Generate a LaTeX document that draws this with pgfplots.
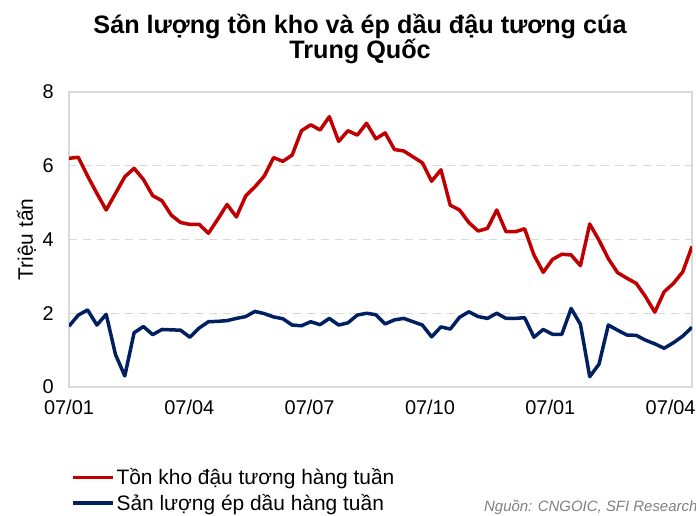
\documentclass[border=0pt]{standalone}
\usepackage{fontspec}
\setmainfont{Liberation Sans}
\usepackage{pgfplots}
\pgfplotsset{compat=1.18}
\usepackage{pgfplotstable}
\definecolor{redS}{HTML}{C00000}
\definecolor{blueS}{HTML}{002060}
\definecolor{gridG}{HTML}{D9D9D9}
\definecolor{srcG}{HTML}{808080}
\pgfplotstableread{
i red blue
0 6.20 1.65
1 6.23 1.95
2 5.72 2.09
3 5.25 1.68
4 4.80 1.97
5 5.25 0.88
6 5.70 0.30
7 5.93 1.47
8 5.63 1.64
9 5.19 1.42
10 5.05 1.56
11 4.66 1.55
12 4.46 1.54
13 4.41 1.35
14 4.41 1.60
15 4.17 1.77
16 4.55 1.78
17 4.95 1.80
18 4.61 1.86
19 5.18 1.91
20 5.43 2.05
21 5.72 1.99
22 6.22 1.90
23 6.12 1.85
24 6.29 1.68
25 6.95 1.66
26 7.11 1.77
27 6.97 1.69
28 7.33 1.86
29 6.66 1.68
30 6.95 1.74
31 6.83 1.95
32 7.15 2.00
33 6.73 1.96
34 6.89 1.71
35 6.44 1.82
36 6.40 1.86
37 6.24 1.77
38 6.08 1.68
39 5.58 1.36
40 5.89 1.63
41 4.93 1.57
42 4.80 1.89
43 4.46 2.04
44 4.23 1.91
45 4.30 1.86
46 4.80 2.00
47 4.21 1.86
48 4.21 1.86
49 4.29 1.88
50 3.58 1.35
51 3.11 1.56
52 3.46 1.43
53 3.60 1.43
54 3.58 2.13
55 3.29 1.70
56 4.42 0.28
57 3.98 0.62
58 3.48 1.68
59 3.10 1.54
60 2.95 1.41
61 2.81 1.40
62 2.45 1.27
63 2.03 1.17
64 2.58 1.05
65 2.81 1.20
66 3.12 1.38
67 3.81 1.62
}\datatable
\begin{document}
\begin{tikzpicture}[x=1bp,y=1bp]
\begin{axis}[
  at={(69bp,129bp)}, anchor=origin,
  scale only axis, width=623bp, height=295bp,
  xmin=0, xmax=67, ymin=0, ymax=8,
  xtick={0,12.94,25.88,38.82,51.76,64.7},
  xticklabels={07/01,07/04,07/07,07/10,07/01,07/04},
  ytick={0,2,4,6,8},
  major tick length=0pt,
  axis line style={gridG, line width=1.3bp},
  ymajorgrids,
  grid style={gridG, line width=1.3bp, dash pattern=on 8bp off 6bp},
  tick label style={font=\fontsize{20}{24}\selectfont},
  /pgf/number format/assume math mode=true,
  yticklabel style={anchor=east, inner sep=0pt, xshift=-15bp},
  xticklabel style={anchor=north, inner sep=0pt, yshift=-13bp},
  ylabel={Triệu tấn},
  ylabel style={at={(axis description cs:-0.058,0.5)}, anchor=base, font=\fontsize{21}{24}\selectfont, inner sep=0pt},
  legend style={at={(rel axis cs:0.003,-0.27)}, anchor=north west, draw=none, fill=none,
    font=\fontsize{21}{24}\selectfont, row sep=4bp, inner sep=0pt},
  legend cell align=left,
  legend image code/.code={\draw[#1] (0bp,0bp) -- (40bp,0bp);},
]
\addplot[redS, line width=3.5bp, line join=round] table[x=i, y=red] {\datatable};
\addlegendentry{Tồn kho đậu tương hàng tuần}
\addplot[blueS, line width=3.5bp, line join=round] table[x=i, y=blue] {\datatable};
\addlegendentry{Sản lượng ép dầu hàng tuần}
\end{axis}
\node[anchor=base, font=\fontsize{25.3}{25}\selectfont\bfseries] at (360,482) {Sán lượng tồn kho và ép dầu đậu tương cúa};
\node[anchor=base, font=\fontsize{25.3}{25}\selectfont\bfseries] at (360,457) {Trung Quốc};
\node[anchor=base west, font=\fontsize{15}{18}\selectfont\itshape, text=srcG, inner sep=0pt] at (484,4) {Nguồn: CNGOIC, SFI Research};
\pgfresetboundingbox
\useasboundingbox (0,0) rectangle (696,516);
\end{tikzpicture}
\end{document}
